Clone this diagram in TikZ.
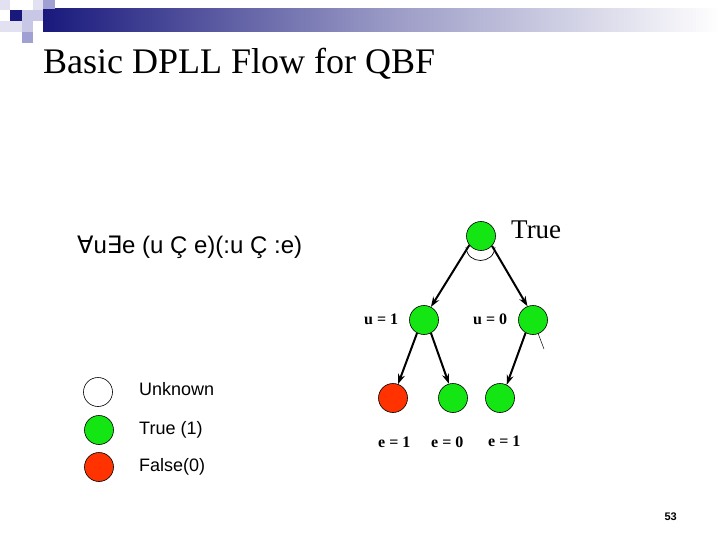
\documentclass[tikz,border=0pt]{standalone}
\usepackage{fontspec}
\setmainfont{Liberation Serif}
\newfontfamily\arial{Liberation Sans}
\newfontfamily\dejavu{DejaVu Sans}
\usetikzlibrary{arrows.meta}
\definecolor{nodegreen}{RGB}{20,230,20}
\definecolor{nodered}{RGB}{255,50,0}
\definecolor{navy}{RGB}{25,25,125}
\definecolor{lavA}{RGB}{200,200,230}
\definecolor{lavB}{RGB}{160,160,210}
\definecolor{lavC}{RGB}{225,225,242}
\begin{document}
\begin{tikzpicture}[x=1pt,y=-1pt,
  state/.style={circle,draw=black,line width=0.6pt,minimum size=29pt,inner sep=0pt},
  tnode/.style={state,fill=nodegreen},
  fnode/.style={state,fill=nodered},
  unode/.style={state,fill=white},
  arr/.style={-{Stealth[length=10pt,width=7pt]},line width=2pt},
  lbl/.style={anchor=base west,inner sep=0pt,font=\bfseries\fontsize{16}{16}\selectfont},
  leg/.style={anchor=base west,inner sep=0pt,font=\arial\fontsize{18}{18}\selectfont}]
\useasboundingbox (0,0) rectangle (720,540);
\fill[white] (0,0) rectangle (720,540);
% header decoration
\shade[left color=navy,right color=white,middle color=navy!45] (43,9) rectangle (720,32);
\fill[lavC] (0,0) rectangle (10,10);
\fill[navy] (10,10) rectangle (22,21);
\fill[lavA] (22,10) rectangle (33,21);
\fill[lavC] (33,0) rectangle (43,10);
\fill[lavB] (43,0) rectangle (55,9);
\fill[lavA] (33,10) rectangle (43,21);
\fill[lavC] (0,21) rectangle (22,32);
\fill[lavA] (22,21) rectangle (33,32);
\fill[lavB] (22,32) rectangle (33,43);
% title
\node[anchor=base west,inner sep=0pt,font=\fontsize{36}{36}\selectfont] (title) at (43,74) {Basic DPLL Flow for QBF};
% formula
\node[anchor=base west,inner sep=0pt,font=\arial\fontsize{24}{24}\selectfont] (formula) at (77,253) {{\dejavu ∀}u{\dejavu ∃}e (u Ç e)(:u Ç :e)};
% tree
\node[tnode] (root) at (481,236) {};
\node[anchor=base west,inner sep=0pt,font=\fontsize{27}{27}\selectfont] (truelbl) at (511,238) {True};
\node[tnode] (u1) at (424,320) {};
\node[tnode] (u0) at (533,320) {};
\node[lbl] (u1lbl) at (364,324) {u = 1};
\node[lbl] (u0lbl) at (473,324) {u = 0};
\node[fnode] (l1) at (393,398) {};
\node[tnode] (l2) at (453,398) {};
\node[tnode] (l3) at (500,398) {};
\node[lbl] (l1lbl) at (378,447) {e = 1};
\node[lbl] (l2lbl) at (431,447) {e = 0};
\node[lbl] (l3lbl) at (488,446) {e = 1};
\draw[arr] (root.218) -- (u1.62);
\draw[arr] (root.318) -- (u0.112);
\coordinate (arcL) at (466,247);
\coordinate (arcR) at (495,247);
\draw[line width=0.7pt] (arcL) .. controls (467,265) and (494,265) .. (arcR);
\draw[arr] (u1.242) -- (l1.70);
\draw[arr] (u1.298) -- (l2.106);
\draw[arr] (u0.240) -- (l3.63);
\coordinate (tail) at (544,349);
\draw[line width=0.5pt] (u0) -- (tail);
% legend
\node[unode] (legU) at (98,392) {};
\node[tnode] (legT) at (99,430) {};
\node[fnode] (legF) at (99,467) {};
\node[leg] (legUt) at (139,395) {Unknown};
\node[leg] (legTt) at (139,434) {True (1)};
\node[leg] (legFt) at (139,471) {False(0)};
% page number
\node[anchor=base east,inner sep=0pt,font=\arial\bfseries\fontsize{11}{11}\selectfont] (pagenum) at (677,520) {53};
\end{tikzpicture}
\end{document}
